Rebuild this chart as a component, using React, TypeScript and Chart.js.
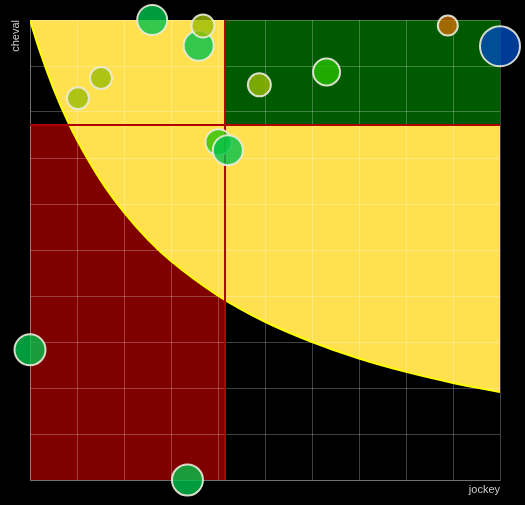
import React, { useEffect, useRef } from "react";
import { Chart, registerables } from "chart.js";

Chart.register(...registerables);

// ---- data ----
const xAxisTitle = "jockey";
const yAxisTitle = "cheval";
const axisMin = 0;
const axisMax = 100;
const tickStep = 10;

const thresholdX = 41.5;
const thresholdY = 77.2;

// boundary curve of the yellow zone
const curveX = [0, 2, 5, 8, 10, 15, 20, 25, 30, 40, 50, 60, 70, 80, 90, 100];
const curveY = [100, 93.5, 85.1, 78, 73.9, 65.2, 58.2, 52.4, 47.6, 40.1, 34.4, 30, 26.4, 23.5, 21.1, 19.1];

// bubbles
const bubbleX = [26, 35.9, 36.8, 15.1, 10.2, 48.8, 63.1, 88.9, 100, 40.1, 42.1, 0, 33.5];
const bubbleY = [100, 94.4, 98.7, 87.4, 83.0, 85.9, 88.7, 98.8, 94.3, 73.4, 71.7, 28.3, 0];
const bubbleR = [15, 15, 11.5, 11, 11, 11.5, 13.5, 10, 20, 13, 15, 15.5, 15.5];
const bubbleColors = [
  "rgba(0,194,75,0.8)",
  "rgba(0,194,75,0.8)",
  "rgba(155,187,5,0.8)",
  "rgba(155,187,5,0.8)",
  "rgba(155,187,5,0.8)",
  "rgba(155,187,5,0.8)",
  "rgba(37,190,0,0.8)",
  "rgba(200,110,0,0.8)",
  "rgba(0,75,187,0.8)",
  "rgba(42,194,5,0.8)",
  "rgba(0,194,75,0.8)",
  "rgba(0,194,75,0.8)",
  "rgba(0,194,75,0.8)",
];

export default function App() {
  const canvasRef = useRef<HTMLCanvasElement | null>(null);

  useEffect(() => {
    if (!canvasRef.current) return;
    const gridColor = "rgba(255,255,255,0.25)";
    const titleFont = { family: "'Liberation Sans', Arial, sans-serif", size: 11 };

    const chart = new Chart(canvasRef.current, {
      type: "line",
      data: {
        datasets: [
          {
            type: "bubble",
            order: 0,
            clip: false,
            data: bubbleX.map((x, i) => ({ x, y: bubbleY[i], r: bubbleR[i] })),
            backgroundColor: bubbleColors,
            borderColor: "rgba(235,235,220,0.9)",
            borderWidth: 2,
          } as any,
          {
            type: "line",
            order: 1,
            data: [
              { x: axisMin, y: thresholdY },
              { x: axisMax, y: thresholdY },
            ],
            borderColor: "#b00000",
            borderWidth: 2,
            pointRadius: 0,
            fill: false,
          },
          {
            type: "line",
            order: 1,
            data: [
              { x: thresholdX, y: axisMin },
              { x: thresholdX, y: axisMax },
            ],
            borderColor: "#b00000",
            borderWidth: 2,
            pointRadius: 0,
            fill: false,
          },
          {
            type: "line",
            order: 3,
            data: [
              { x: thresholdX, y: thresholdY },
              { x: axisMax, y: thresholdY },
            ],
            borderColor: "transparent",
            borderWidth: 1,
            backgroundColor: "#005a00",
            pointRadius: 0,
            fill: "end",
          },
          {
            type: "line",
            order: 4,
            data: curveX.map((x, i) => ({ x, y: curveY[i] })),
            borderColor: "#ffff00",
            borderWidth: 2,
            backgroundColor: "#ffe150",
            pointRadius: 0,
            cubicInterpolationMode: "monotone",
            fill: "end",
          },
          {
            type: "line",
            order: 5,
            data: [
              { x: axisMin, y: thresholdY },
              { x: thresholdX, y: thresholdY },
            ],
            borderColor: "transparent",
            borderWidth: 1,
            backgroundColor: "#800000",
            pointRadius: 0,
            fill: "origin",
          },
        ] as any,
      },
      options: {
        responsive: false,
        animation: false,
        events: [],
        layout: { autoPadding: false, padding: { top: 20, right: 25, left: 0, bottom: 0 } },
        plugins: {
          legend: { display: false },
          tooltip: { enabled: false },
          filler: { drawTime: "beforeDraw" } as any,
        },
        scales: {
          x: {
            type: "linear",
            min: axisMin,
            max: axisMax,
            ticks: { display: false, stepSize: tickStep },
            grid: { color: gridColor, drawTicks: false },
            border: { color: gridColor },
            title: {
              display: true,
              text: xAxisTitle,
              align: "end",
              color: "#cccccc",
              font: titleFont,
              padding: { top: 0, bottom: 8 },
            },
            afterFit: (s: any) => {
              s.height = 25;
              s.paddingLeft = 0;
              s.paddingRight = 0;
            },
          },
          y: {
            type: "linear",
            min: axisMin,
            max: axisMax,
            ticks: { display: false, stepSize: tickStep },
            grid: { color: gridColor, drawTicks: false },
            border: { color: gridColor },
            title: {
              display: true,
              text: yAxisTitle,
              align: "end",
              color: "#cccccc",
              font: titleFont,
              padding: { top: 9, bottom: 0 },
            },
            afterFit: (s: any) => {
              s.width = 30;
              s.paddingTop = 0;
              s.paddingBottom = 0;
            },
          },
        },
      } as any,
    });
    return () => chart.destroy();
  }, []);

  return (
    <div
      style={{
        position: "fixed",
        left: 0,
        top: 0,
        width: 525,
        height: 505,
        background: "#000",
      }}
    >
      <canvas ref={canvasRef} width={525} height={505} style={{ display: "block" }} />
    </div>
  );
}
